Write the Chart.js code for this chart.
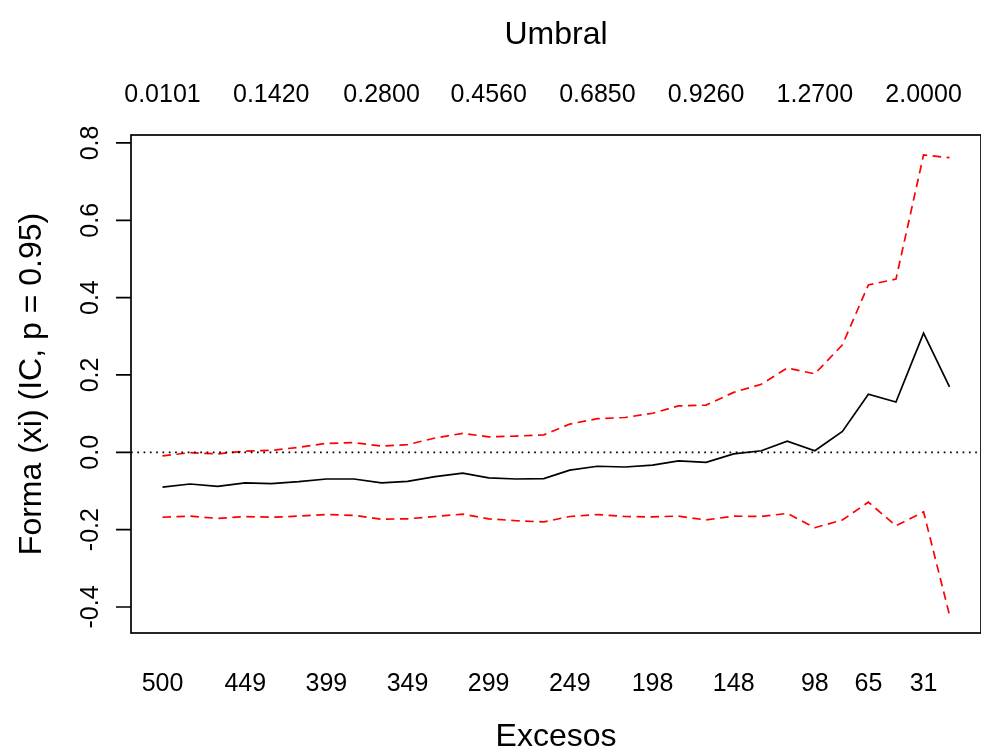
<!DOCTYPE html>
<html>
<head>
<meta charset="utf-8">
<script src="https://cdn.jsdelivr.net/npm/chart.js@4"></script>
<style>
html,body{margin:0;padding:0;overflow:hidden;background:#fff}
#wrap{width:981px;height:747px;overflow:hidden}
canvas{display:block}
</style>
</head>
<body>
<div id="wrap"><canvas id="c" width="981" height="747"></canvas></div>
<script>
// ---- data ----
const exceedances = [500,483,466,449,433,416,399,382,365,349,332,315,299,282,265,249,232,215,198,182,165,148,131,115,98,81,65,48,31,15];
const shapeEst = [-0.090,-0.082,-0.088,-0.079,-0.081,-0.076,-0.069,-0.069,-0.079,-0.075,-0.063,-0.054,-0.066,-0.069,-0.068,-0.046,-0.036,-0.038,-0.033,-0.022,-0.026,-0.004,0.004,0.029,0.004,0.054,0.150,0.130,0.308,0.169];
const upperCI = [-0.009,-0.001,-0.004,0.003,0.005,0.013,0.023,0.025,0.016,0.020,0.037,0.049,0.040,0.042,0.045,0.073,0.087,0.090,0.101,0.120,0.122,0.155,0.176,0.218,0.203,0.278,0.433,0.448,0.769,0.762];
const lowerCI = [-0.168,-0.165,-0.171,-0.166,-0.168,-0.165,-0.161,-0.163,-0.173,-0.172,-0.166,-0.160,-0.172,-0.177,-0.180,-0.166,-0.161,-0.166,-0.167,-0.165,-0.175,-0.165,-0.166,-0.158,-0.195,-0.175,-0.129,-0.190,-0.154,-0.421];
const bottomTickExceed = [500,449,399,349,299,249,198,148,98,65,31];
const topTickExceed = [500,433,365,299,232,165,98,31];
const topTickLabels = ['0.0101','0.1420','0.2800','0.4560','0.6850','0.9260','1.2700','2.0000'];
const yTicks = [-0.4,-0.2,0,0.2,0.4,0.6,0.8];
const yTickLabels = ['-0.4','-0.2','0.0','0.2','0.4','0.6','0.8'];
const xTitle = 'Excesos';
const topTitle = 'Umbral';
const yTitle = 'Forma (xi) (IC, p = 0.95)';

// ---- ranges (R style 4% extension on x) ----
const xLo = -Math.max(...exceedances), xHi = -Math.min(...exceedances);
const xExt = (xHi - xLo) * 0.04;
const X_MIN = xLo - xExt, X_MAX = xHi + xExt;
const Y_MIN = -0.4673, Y_MAX = 0.8206;

const FONT = '"Liberation Sans", Arial, Helvetica, sans-serif';

const toPts = arr => exceedances.map((e, i) => ({x: -e, y: arr[i]}));
const noSidePad = s => { s.paddingLeft = 0; s.paddingRight = 0; };

const rPlot = {
  id: 'rPlot',
  afterDraw(chart) {
    const {ctx, chartArea: a, scales: {y}} = chart;
    ctx.save();
    ctx.strokeStyle = '#000';
    ctx.lineWidth = 1.7;
    // zero reference line (dotted)
    const y0 = y.getPixelForValue(0);
    ctx.setLineDash([1.7, 4.6]);
    ctx.beginPath(); ctx.moveTo(a.left, y0); ctx.lineTo(a.right, y0); ctx.stroke();
    ctx.setLineDash([]);
    // box
    ctx.strokeRect(a.left, a.top, a.right - a.left, a.bottom - a.top);
    // y axis ticks
    ctx.beginPath();
    yTicks.forEach(v => { const p = y.getPixelForValue(v); ctx.moveTo(a.left - 15, p); ctx.lineTo(a.left, p); });
    ctx.stroke();
    // y tick labels (rotated like R las=0)
    ctx.fillStyle = '#000';
    ctx.font = '25px ' + FONT;
    ctx.textAlign = 'center';
    ctx.textBaseline = 'alphabetic';
    yTicks.forEach((v, i) => {
      const p = y.getPixelForValue(v);
      ctx.save(); ctx.translate(a.left - 33, p); ctx.rotate(-Math.PI / 2);
      ctx.fillText(yTickLabels[i], 0, 0); ctx.restore();
    });
    // titles
    ctx.font = '32px ' + FONT;
    const cx = (a.left + a.right) / 2, cy = (a.top + a.bottom) / 2;
    ctx.fillText(topTitle, cx, 44);
    ctx.fillText(xTitle, cx, 746);
    ctx.save(); ctx.translate(41, cy); ctx.rotate(-Math.PI / 2); ctx.fillText(yTitle, 0, 0); ctx.restore();
    ctx.restore();
  }
};

new Chart(document.getElementById('c'), {
  type: 'line',
  data: {
    datasets: [
      {label: 'Forma', data: toPts(shapeEst), borderColor: '#000000', borderWidth: 1.7, pointRadius: 0, pointHoverRadius: 0, tension: 0, fill: false},
      {label: 'IC sup', data: toPts(upperCI), borderColor: '#FF0000', borderWidth: 1.7, borderDash: [8.5, 5.5], pointRadius: 0, pointHoverRadius: 0, tension: 0, fill: false},
      {label: 'IC inf', data: toPts(lowerCI), borderColor: '#FF0000', borderWidth: 1.7, borderDash: [8.5, 5.5], pointRadius: 0, pointHoverRadius: 0, tension: 0, fill: false}
    ]
  },
  options: {
    responsive: false,
    animation: false,
    devicePixelRatio: 1,
    layout: {autoPadding: false, padding: {left: 0, right: -4, top: 0, bottom: 0}},
    plugins: {legend: {display: false}, tooltip: {enabled: false}},
    scales: {
      x: {
        type: 'linear', position: 'bottom', min: X_MIN, max: X_MAX,
        grid: {display: false, drawTicks: false}, border: {display: false},
        afterBuildTicks: s => { s.ticks = bottomTickExceed.map(v => ({value: -v})); },
        afterFit: s => { s.height = 114; noSidePad(s); },
        ticks: {autoSkip: false, maxRotation: 0, minRotation: 0, padding: 36, color: '#000',
                font: {family: FONT, size: 25}, callback: v => String(-v)}
      },
      x2: {
        type: 'linear', position: 'top', min: X_MIN, max: X_MAX,
        grid: {display: false, drawTicks: false}, border: {display: false},
        afterBuildTicks: s => { s.ticks = topTickExceed.map(v => ({value: -v})); },
        afterFit: s => { s.height = 135; noSidePad(s); },
        ticks: {autoSkip: false, maxRotation: 0, minRotation: 0, padding: 25, color: '#000',
                font: {family: FONT, size: 25}, callback: (v, i) => topTickLabels[i]}
      },
      y: {
        type: 'linear', position: 'left', min: Y_MIN, max: Y_MAX,
        grid: {display: false, drawTicks: false}, border: {display: false},
        afterBuildTicks: s => { s.ticks = yTicks.map(v => ({value: v})); },
        afterFit: s => { s.width = 131; s.paddingTop = 0; s.paddingBottom = 0; },
        ticks: {display: false}
      }
    }
  },
  plugins: [rPlot]
});
</script>
</body>
</html>
